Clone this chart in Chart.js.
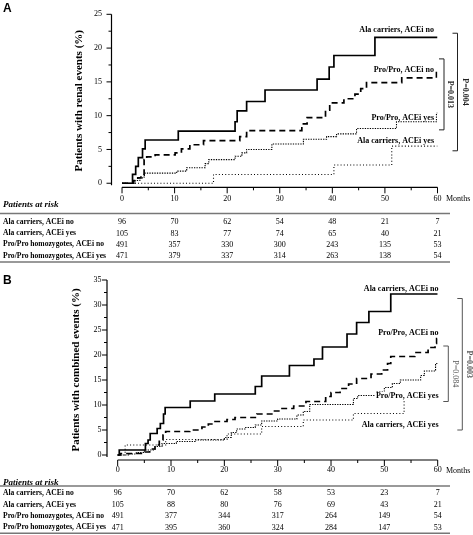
<!DOCTYPE html>
<html>
<head>
<meta charset="utf-8">
<title>Kaplan-Meier curves by genotype and ACEi</title>
<script src="https://cdn.jsdelivr.net/npm/chart.js@4.4.1/dist/chart.umd.min.js"></script>
<style>
  html, body { margin: 0; padding: 0; background: #fff; }
  #wrap { position: relative; width: 473px; height: 535px; overflow: hidden; }
  canvas { position: absolute; left: 0; }
  #panelA { top: 0; }
  #panelB { top: 268px; }
</style>
</head>
<body>
<div id="wrap">
  <canvas id="panelA" width="473" height="268"></canvas>
  <canvas id="panelB" width="473" height="267"></canvas>
</div>
<script>
// Tick labels
const monthTicks = [0, 10, 20, 30, 40, 50, 60];
const renalTicks = [0, 5, 10, 15, 20, 25];
const combinedTicks = [0, 5, 10, 15, 20, 25, 30, 35];

// Curve names / at-risk row names
const curveNames = ["Ala carriers, ACEi no", "Pro/Pro, ACEi no", "Pro/Pro, ACEi yes", "Ala carriers, ACEi yes"];
const riskGroups = ["Ala carriers, ACEi no", "Ala carriers, ACEi yes", "Pro/Pro homozygotes, ACEi no", "Pro/Pro homozygotes, ACEi yes"];

// Panel A: renal events, [month, cumulative %]
const renalAlaNo = [[0, 0], [2.0, 1.3], [2.6, 2.5], [3.1, 3.8], [3.9, 5.1], [4.4, 6.4], [10.7, 7.7], [21.5, 9.1], [21.9, 10.7], [23.7, 12.1], [27.2, 13.8], [37.1, 15.4], [39.4, 17.2], [40.3, 18.9], [48.1, 21.6], [60, 21.6]];
const renalProNo = [[0, 0], [2.2, 0.4], [3.0, 0.8], [3.6, 1.2], [4.2, 3.5], [4.7, 3.9], [6.3, 4.2], [10.1, 4.5], [11.3, 5.1], [12.9, 5.7], [15.5, 6.3], [22.4, 6.9], [23.7, 7.8], [34.2, 8.8], [35.2, 9.7], [38.7, 10.8], [39.5, 11.9], [42.2, 12.5], [44.3, 13.2], [45.4, 14.0], [46.5, 14.9], [53.2, 15.6], [59.8, 16.8], [60, 16.8]];
const renalProYes = [[0, 0], [2.5, 0.4], [3.4, 0.8], [4.2, 1.5], [10.4, 1.8], [12.3, 2.3], [15.8, 2.9], [16.5, 3.5], [21.5, 4.0], [22.8, 4.5], [23.7, 5.0], [28.5, 5.8], [34.5, 6.5], [38.9, 6.9], [40.8, 7.3], [44.6, 8.1], [52.2, 9.1], [59.8, 10.4], [60, 10.4]];
const renalAlaYes = [[0, 0], [17.4, 1.3], [40.3, 2.7], [51.3, 5.5], [60, 5.5]];

// Panel B: combined events, [month, cumulative %]
const combAlaNo = [[0, 0], [0.3, 1.0], [5.2, 2.3], [5.7, 3.0], [6.1, 4.3], [7.4, 5.3], [8.0, 6.3], [8.6, 8.2], [8.9, 9.5], [13.6, 10.8], [18.2, 12.2], [25.8, 13.7], [27.0, 15.8], [32.2, 17.9], [36.8, 19.2], [38.4, 21.6], [43.0, 24.2], [44.8, 26.5], [47.1, 28.7], [51.2, 32.2], [60, 32.2]];
const combProNo = [[0, 0], [0.5, 0.3], [5.2, 0.6], [6.0, 1.2], [7.0, 2.0], [7.8, 3.0], [8.5, 4.0], [9.0, 4.7], [13.5, 5.0], [15.8, 5.6], [17.0, 6.2], [18.0, 6.7], [20.5, 7.1], [22.0, 7.5], [26.1, 8.2], [28.9, 8.8], [30.4, 9.3], [33.0, 9.8], [35.3, 10.7], [39.0, 11.7], [40.0, 12.5], [41.7, 13.3], [43.3, 14.2], [44.8, 15.3], [47.5, 16.2], [49.5, 17.0], [50.6, 18.3], [51.2, 19.7], [55.7, 20.5], [58.2, 21.5], [59.5, 22.3], [59.8, 23.3], [60, 23.3]];
const combProYes = [[0, 0], [2.0, 0.2], [3.5, 0.5], [5.0, 1.0], [7.0, 1.7], [8.3, 2.3], [11.0, 2.7], [14.5, 3.0], [20.0, 3.5], [21.3, 4.5], [22.3, 5.2], [24.0, 5.5], [25.8, 6.0], [27.0, 6.8], [30.0, 7.2], [33.6, 8.0], [34.8, 8.7], [36.0, 10.1], [44.2, 11.3], [45.0, 11.9], [48.6, 12.7], [50.0, 13.5], [51.5, 14.3], [53.0, 15.0], [56.8, 15.9], [57.5, 16.8], [59.6, 18.3], [60, 18.3]];
const combAlaYes = [[0, 0], [1.4, 2.0], [9.0, 3.1], [20.5, 4.2], [27.0, 5.7], [34.8, 7.0], [44.2, 8.3], [53.7, 11.3], [60, 11.3]];

// Patients at risk, one value per month tick
const renalRiskAlaNo = [96, 70, 62, 54, 48, 21, 7];
const renalRiskAlaYes = [105, 83, 77, 74, 65, 40, 21];
const renalRiskProNo = [491, 357, 330, 300, 243, 135, 53];
const renalRiskProYes = [471, 379, 337, 314, 263, 138, 54];
const combRiskAlaNo = [96, 70, 62, 58, 53, 23, 7];
const combRiskAlaYes = [105, 88, 80, 76, 69, 43, 21];
const combRiskProNo = [491, 377, 344, 317, 264, 149, 54];
const combRiskProYes = [471, 395, 360, 324, 284, 147, 53];

const SERIF = "'Liberation Serif', 'Times New Roman', serif";

// line styles per curve (same order as curveNames)
const curveStyles = [
  { width: 1.7, dash: [] },
  { width: 1.7, dash: [6, 4] },
  { width: 1.1, dash: [1.3, 1.2] },
  { width: 1.1, dash: [1, 2.2] },
];

function strokeLine(ctx, x1, y1, x2, y2) {
  ctx.beginPath();
  ctx.moveTo(x1, y1);
  ctx.lineTo(x2, y2);
  ctx.stroke();
}

// Axes, curve labels, p-value brackets and the at-risk table
const kmDecor = {
  id: "kmDecor",
  afterDraw(chart, args, opts) {
    const ctx = chart.ctx;
    const xs = chart.scales.x;
    const ys = chart.scales.y;
    const area = chart.chartArea;
    ctx.save();

    // axis lines, SPSS style (detached)
    ctx.strokeStyle = "#000";
    ctx.lineWidth = 1.2;
    const axisY = area.bottom;
    const axisX = area.left;
    strokeLine(ctx, xs.getPixelForValue(0), axisY, xs.getPixelForValue(60), axisY);
    strokeLine(ctx, axisX, ys.getPixelForValue(opts.yMax), axisX, ys.getPixelForValue(0) + 2);

    ctx.lineWidth = 1;
    for (let m = 0; m <= 60; m += 5) {
      const px = xs.getPixelForValue(m);
      strokeLine(ctx, px, axisY, px, axisY + (m % 10 === 0 ? 6 : 3));
    }
    for (let v = 0; v <= opts.yMax; v += 2.5) {
      const py = ys.getPixelForValue(v);
      strokeLine(ctx, axisX, py, axisX - (v % 5 === 0 ? 5 : 3), py);
    }

    // "Months"
    ctx.fillStyle = "#000";
    ctx.font = "8px " + SERIF;
    ctx.textAlign = "left";
    ctx.textBaseline = "middle";
    ctx.fillText("Months", 446, opts.monthsY);

    // panel letter
    ctx.font = "bold 12px 'Liberation Sans', Arial, sans-serif";
    ctx.textBaseline = "alphabetic";
    ctx.fillText(opts.letter, 3, opts.letterY);

    // curve labels
    ctx.font = "bold 8px " + SERIF;
    ctx.textAlign = "right";
    ctx.textBaseline = "middle";
    opts.curveLabels.forEach((lab) => {
      const py = ys.getPixelForValue(lab.value);
      if (opts.labelBackground) {
        const w = ctx.measureText(lab.text).width;
        ctx.fillStyle = "#fff";
        ctx.fillRect(opts.labelRight - w - 1, py - 4, w + 2, 8);
      }
      ctx.fillStyle = "#000";
      ctx.fillText(lab.text, opts.labelRight, py);
    });

    // p-value brackets
    opts.brackets.forEach((b) => {
      const top = ys.getPixelForValue(b.top);
      const bottom = ys.getPixelForValue(b.bottom);
      ctx.strokeStyle = b.color;
      ctx.lineWidth = 1;
      ctx.beginPath();
      ctx.moveTo(b.x - 5, top);
      ctx.lineTo(b.x, top);
      ctx.lineTo(b.x, bottom);
      ctx.lineTo(b.x - 5, bottom);
      ctx.stroke();
      ctx.save();
      ctx.translate(b.textX, (top + bottom) / 2);
      ctx.rotate(Math.PI / 2);
      ctx.fillStyle = b.color;
      ctx.font = (b.bold ? "bold " : "") + "8px " + SERIF;
      ctx.textAlign = "center";
      ctx.textBaseline = "middle";
      ctx.fillText(b.text, 0, 0);
      ctx.restore();
    });

    // patients at risk table
    const t = opts.table;
    ctx.fillStyle = "#000";
    ctx.font = "bold italic 9px " + SERIF;
    ctx.textAlign = "left";
    ctx.fillText("Patients at risk", 3, t.headY);
    ctx.strokeStyle = "#777";
    ctx.lineWidth = 1.4;
    strokeLine(ctx, 0, t.rule1, 450, t.rule1);
    strokeLine(ctx, 0, t.rule2, 450, t.rule2);
    t.rows.forEach((row, i) => {
      ctx.font = "bold 7.6px " + SERIF;
      ctx.textAlign = "left";
      ctx.fillText(riskGroups[i], 3, t.rowY[i]);
      ctx.font = "8px " + SERIF;
      ctx.textAlign = "center";
      row.forEach((n, j) => {
        ctx.fillText(String(n), xs.getPixelForValue(monthTicks[j]), t.rowY[i]);
      });
    });

    ctx.restore();
  },
};

function makePanel(canvasId, cfg) {
  const datasets = cfg.series.map((pts, i) => ({
    label: curveNames[i],
    data: pts.map(([m, v]) => ({ x: m, y: v })),
    borderColor: "#000",
    borderWidth: curveStyles[i].width,
    borderDash: curveStyles[i].dash,
    borderCapStyle: "butt",
    stepped: true,
    pointRadius: 0,
    fill: false,
  }));
  // draw the solid curve last so it sits on top
  datasets.forEach((d, i) => { d.order = -i; });

  return new Chart(document.getElementById(canvasId), {
    type: "line",
    data: { datasets },
    options: {
      responsive: false,
      animation: false,
      events: [],
      layout: { padding: { left: 0, top: cfg.areaTop, right: 473 - cfg.areaRight, bottom: 0 } },
      plugins: {
        legend: { display: false },
        tooltip: { enabled: false },
        kmDecor: cfg.decor,
      },
      scales: {
        x: {
          type: "linear",
          min: -2,
          max: 60,
          afterBuildTicks: (s) => { s.ticks = monthTicks.map((v) => ({ value: v })); },
          afterFit: (s) => { s.height = cfg.xHeight; },
          grid: { display: false, drawTicks: false },
          border: { display: false },
          ticks: { color: "#000", font: { family: SERIF, size: 8 }, padding: cfg.xPad, maxRotation: 0, autoSkip: false },
        },
        y: {
          type: "linear",
          min: cfg.yMin,
          max: cfg.decor.yMax,
          afterBuildTicks: (s) => { s.ticks = cfg.yTicks.map((v) => ({ value: v })); },
          afterFit: (s) => { s.width = cfg.yWidth; },
          grid: { display: false, drawTicks: false },
          border: { display: false },
          ticks: { color: "#000", font: { family: SERIF, size: 8 }, padding: cfg.yPad },
          title: {
            display: true,
            text: cfg.yTitle,
            color: "#000",
            font: { family: SERIF, size: 11, weight: "bold" },
            padding: { top: cfg.titlePad, bottom: 0 },
          },
        },
      },
    },
    plugins: [kmDecor],
  });
}

makePanel("panelA", {
  series: [renalAlaNo, renalProNo, renalProYes, renalAlaYes],
  yTicks: renalTicks,
  yMin: -0.6,
  yTitle: "Patients with renal events (%)",
  areaTop: 5,
  areaRight: 437.5,
  xHeight: 80.7,
  yWidth: 111.5,
  xPad: 7,
  yPad: 9.5,
  titlePad: 73,
  decor: {
    yMax: 25,
    letter: "A",
    letterY: 12,
    monthsY: 199,
    labelRight: 434,
    labelBackground: false,
    curveLabels: [
      { text: curveNames[0], value: 22.75 },
      { text: curveNames[1], value: 16.7 },
      { text: curveNames[2], value: 9.7 },
      { text: curveNames[3], value: 6.2 },
    ],
    brackets: [
      { top: 18.4, bottom: 7.9, x: 444, textX: 450, text: "P=0.013", bold: true, color: "#222" },
      { top: 22.2, bottom: 4.8, x: 457.5, textX: 465, text: "P=0.004", bold: true, color: "#222" },
    ],
    table: {
      headY: 205,
      rule1: 213.5,
      rule2: 262,
      rowY: [222, 233.5, 244.5, 256],
      rows: [renalRiskAlaNo, renalRiskAlaYes, renalRiskProNo, renalRiskProYes],
    },
  },
});

makePanel("panelB", {
  series: [combAlaNo, combProNo, combProYes, combAlaYes],
  yTicks: combinedTicks,
  yMin: -1,
  yTitle: "Patients with combined events (%)",
  areaTop: 12,
  areaRight: 437.7,
  xHeight: 75,
  yWidth: 107,
  xPad: 5,
  yPad: 5.5,
  titlePad: 70,
  decor: {
    yMax: 35,
    letter: "B",
    letterY: 16,
    monthsY: 203,
    labelRight: 438.5,
    labelBackground: true,
    curveLabels: [
      { text: curveNames[0], value: 33.2 },
      { text: curveNames[1], value: 24.5 },
      { text: curveNames[2], value: 11.9 },
      { text: curveNames[3], value: 6.1 },
    ],
    brackets: [
      { top: 21.8, bottom: 10.7, x: 448.3, textX: 455, text: "P=0.084", bold: false, color: "#555" },
      { top: 31.3, bottom: 5.0, x: 462.3, textX: 469.5, text: "P=0.003", bold: true, color: "#555" },
    ],
    table: {
      headY: 214.3,
      rule1: 218,
      rule2: 265.3,
      rowY: [225.3, 237, 248.3, 259.5],
      rows: [combRiskAlaNo, combRiskAlaYes, combRiskProNo, combRiskProYes],
    },
  },
});
</script>
</body>
</html>
